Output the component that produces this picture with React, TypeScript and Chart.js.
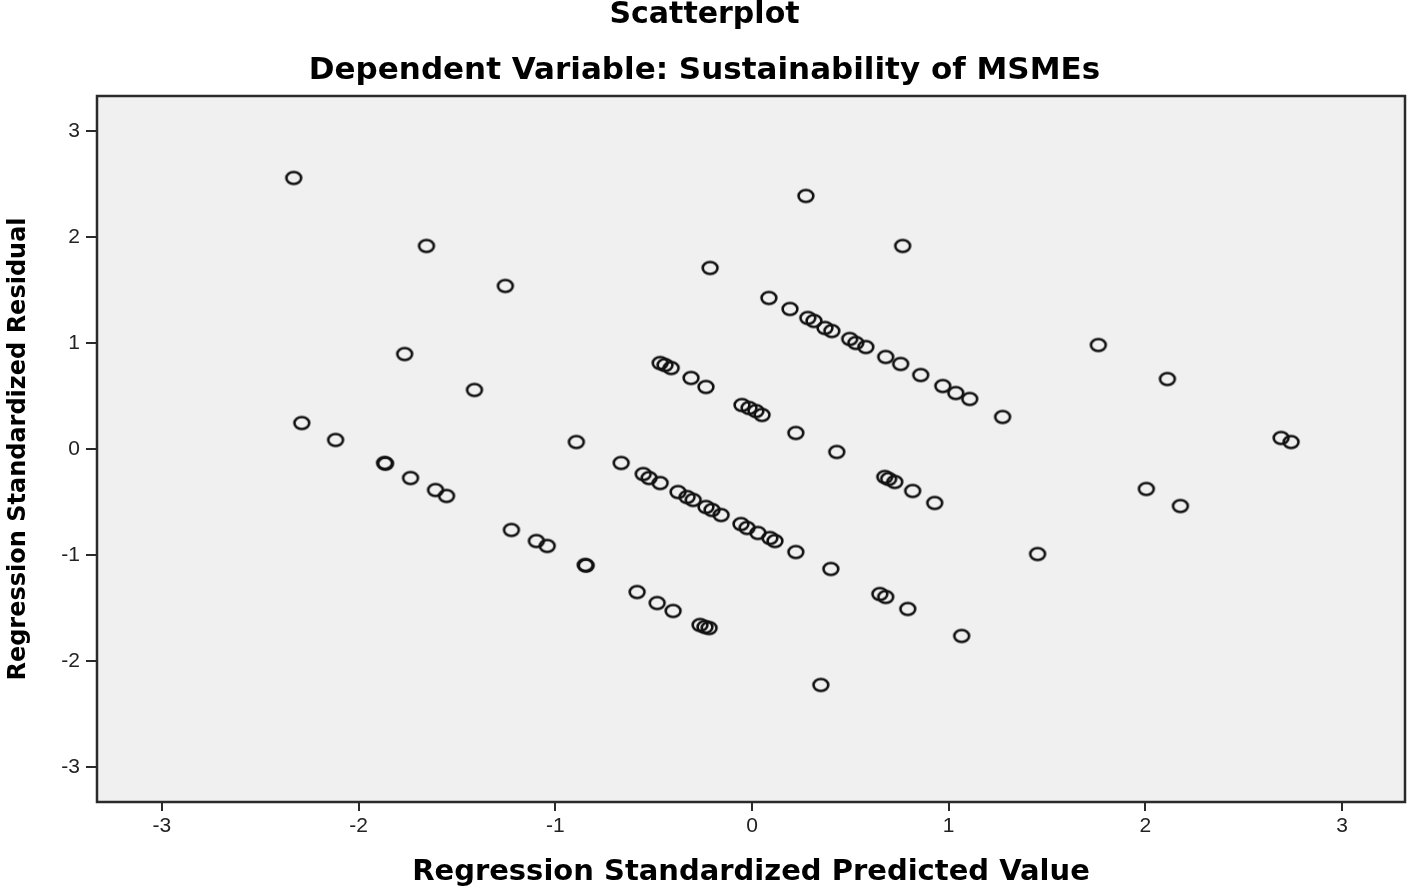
import React, { useEffect, useRef } from "react";
import { Chart, registerables } from "chart.js";

Chart.register(...registerables);

// Regression standardized predicted values (x) and residuals (y)
const predicted: number[] = [
  // top isolated points
  -2.33, 0.274, -1.655, 0.766, -0.213, -1.254, 1.761, 2.112, 2.69, 2.741, -1.766, -1.411,
  // upper band
  0.086, 0.193, 0.284, 0.315, 0.371, 0.406, 0.497, 0.528, 0.579, 0.68, 0.756, 0.858, 0.97, 1.036, 1.107, 1.274,
  // middle band
  -0.467, -0.442, -0.411, -0.31, -0.234, -0.051, -0.015, 0.02, 0.051, 0.223, 0.431,
  // left lower band
  -2.289, -2.117, -1.868, -1.863, -1.736, -1.609, -1.553, -1.223, -1.096, -1.041, -0.848, -0.843, -0.893,
  // lower middle band
  -0.665, -0.553, -0.523, -0.467, -0.376, -0.33, -0.299, -0.234, -0.203, -0.157, -0.056, -0.025, 0.03, 0.091, 0.117,
  0.223, 0.401, 0.675, 0.695, 0.726, 0.817, 0.929, 2.005, 2.178, 1.452,
  // bottom band
  -0.584, -0.482, -0.401, -0.264, -0.239, -0.218, 0.65, 0.68, 0.792, 1.066, 0.35,
];

const residuals: number[] = [
  2.557, 2.387, 1.915, 1.915, 1.708, 1.538, 0.981, 0.66, 0.104, 0.066, 0.896, 0.557,
  1.425, 1.321, 1.236, 1.208, 1.142, 1.113, 1.038, 1.0, 0.962, 0.868, 0.802, 0.698, 0.594, 0.528, 0.472, 0.302,
  0.811, 0.792, 0.764, 0.67, 0.585, 0.415, 0.387, 0.358, 0.321, 0.151, -0.028,
  0.245, 0.085, -0.132, -0.138, -0.274, -0.387, -0.443, -0.764, -0.868, -0.915, -1.094, -1.1, 0.066,
  -0.132, -0.236, -0.274, -0.321, -0.406, -0.453, -0.481, -0.547, -0.575, -0.623, -0.708, -0.745, -0.792, -0.84, -0.868,
  -0.972, -1.132, -0.264, -0.283, -0.311, -0.396, -0.509, -0.377, -0.538, -0.991,
  -1.349, -1.453, -1.528, -1.66, -1.679, -1.689, -1.368, -1.396, -1.509, -1.764, -2.226,
];

const xTicks: number[] = [-3, -2, -1, 0, 1, 2, 3];
const yTicks: number[] = [-3, -2, -1, 0, 1, 2, 3];

const titleText = "Scatterplot";
const subtitleText = "Dependent Variable: Sustainability of MSMEs";
const xTitle = "Regression Standardized Predicted Value";
const yTitle = "Regression Standardized Residual";

const frameColor = "#2a2a2a";

function makeMarker(): HTMLCanvasElement {
  const c = document.createElement("canvas");
  c.width = 22;
  c.height = 19;
  const g = c.getContext("2d")!;
  g.strokeStyle = "#111111";
  g.lineWidth = 2.6;
  g.beginPath();
  g.ellipse(11, 9.5, 7.4, 6.0, 0, 0, Math.PI * 2);
  g.stroke();
  return c;
}

const plotFrame = {
  id: "plotFrame",
  beforeDatasetsDraw(chart: any) {
    const { ctx, chartArea } = chart;
    ctx.save();
    ctx.fillStyle = "#f0f0f0";
    ctx.fillRect(chartArea.left, chartArea.top, chartArea.right - chartArea.left, chartArea.bottom - chartArea.top);
    ctx.restore();
  },
  afterDraw(chart: any) {
    const { ctx, chartArea } = chart;
    ctx.save();
    ctx.strokeStyle = frameColor;
    ctx.lineWidth = 2.5;
    ctx.strokeRect(chartArea.left, chartArea.top, chartArea.right - chartArea.left, chartArea.bottom - chartArea.top);
    ctx.restore();
  },
};

export default function App() {
  const ref = useRef<HTMLCanvasElement | null>(null);

  useEffect(() => {
    document.body.style.margin = "0";
    const canvas = ref.current;
    if (!canvas) return;
    const marker = makeMarker();
    const points = predicted.map((x, i) => ({ x, y: residuals[i] }));
    const chart = new Chart(canvas, {
      type: "scatter",
      data: {
        datasets: [
          {
            data: points,
            pointStyle: marker as any,
            pointRadius: 7,
            pointHoverRadius: 7,
            borderColor: "#111111",
            backgroundColor: "rgba(0,0,0,0)",
          },
        ],
      },
      options: {
        animation: false,
        responsive: false,
        layout: { padding: { left: 0, right: 4, top: 0, bottom: 0 } },
        plugins: {
          legend: { display: false },
          tooltip: { enabled: false },
          title: {
            display: true,
            text: titleText,
            color: "#000",
            font: { family: "DejaVu Sans", size: 30, weight: "bold", lineHeight: 1 },
            padding: { top: 0, bottom: 25 },
          },
          subtitle: {
            display: true,
            text: subtitleText,
            color: "#000",
            font: { family: "DejaVu Sans", size: 31, weight: "bold", lineHeight: 1 },
            padding: { top: 0, bottom: 10 },
          },
        },
        scales: {
          x: {
            type: "linear",
            min: -3.33,
            max: 3.32,
            afterBuildTicks: (s: any) => {
              s.ticks = xTicks.map((v) => ({ value: v }));
            },
            afterFit: (s: any) => {
              s.height = 88;
            },
            grid: {
              drawOnChartArea: false,
              drawTicks: true,
              tickLength: 9,
              color: frameColor,
              lineWidth: 2,
            },
            border: { display: false },
            ticks: {
              color: "#222",
              font: { family: "Liberation Sans", size: 21 },
              padding: 3,
              maxRotation: 0,
            },
            title: {
              display: true,
              text: xTitle,
              color: "#000",
              font: { family: "DejaVu Sans", size: 29, weight: "bold", lineHeight: 1 },
              padding: { top: 0, bottom: 3 },
            },
          },
          y: {
            type: "linear",
            min: -3.33,
            max: 3.33,
            afterBuildTicks: (s: any) => {
              s.ticks = yTicks.map((v) => ({ value: v }));
            },
            afterFit: (s: any) => {
              s.width = 97;
            },
            grid: {
              drawOnChartArea: false,
              drawTicks: true,
              tickLength: 11,
              color: frameColor,
              lineWidth: 2,
            },
            border: { display: false },
            ticks: {
              color: "#222",
              font: { family: "Liberation Sans", size: 21 },
              padding: 6,
            },
            title: {
              display: true,
              text: yTitle,
              color: "#000",
              font: { family: "DejaVu Sans", size: 24, weight: "bold", lineHeight: 1 },
              padding: { top: 7, bottom: 0 },
            },
          },
        },
      },
      plugins: [plotFrame],
    });
    return () => chart.destroy();
  }, []);

  return <canvas ref={ref} width={1413} height={890} style={{ display: "block" }} />;
}
